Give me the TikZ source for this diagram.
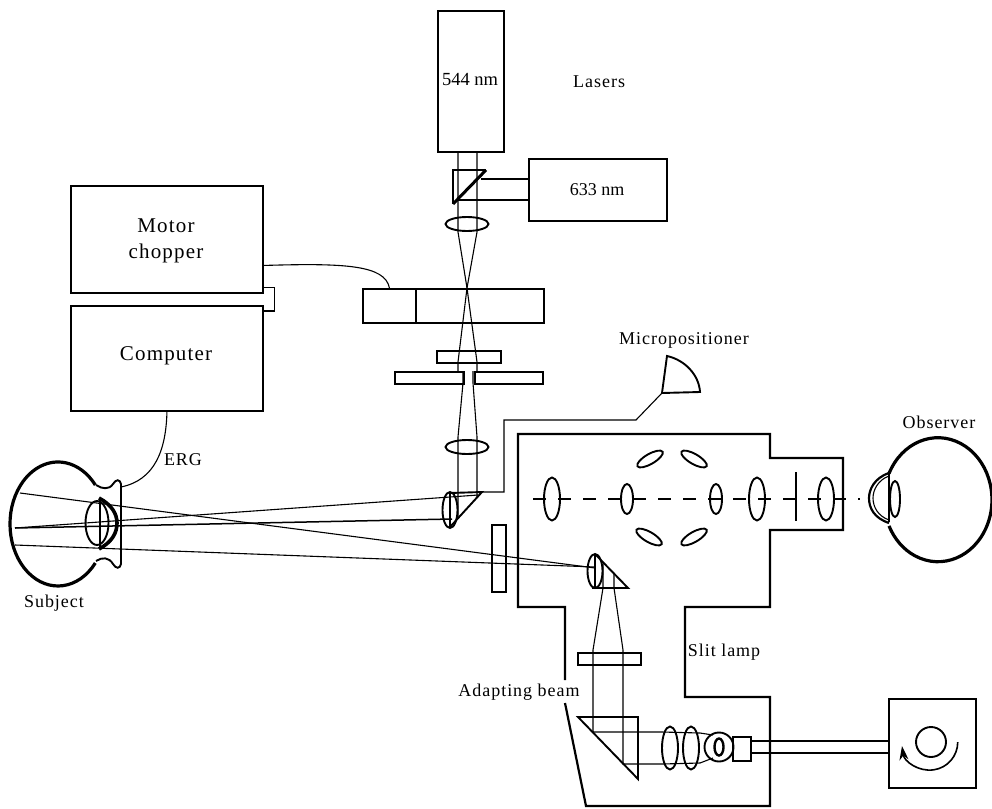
\documentclass[tikz,border=0pt]{standalone}
\usepackage{fontspec}
\setmainfont{Liberation Serif}
\newfontfamily\spacedfont[LetterSpace=5.5]{Liberation Serif}
\usepackage{tikz}
\usetikzlibrary{shapes.geometric, arrows.meta, positioning}

\begin{document}
\begin{tikzpicture}[
  x=1pt, y=-1pt,
  box/.style      = {rectangle, draw, line width=1.9pt, inner sep=0pt, anchor=north west},
  lens/.style     = {ellipse, draw, line width=1.9pt, inner sep=0pt, outer sep=0pt},
  biglens/.style  = {lens, minimum width=16pt, minimum height=43pt},
  smalllens/.style = {lens, minimum width=12pt, minimum height=30pt},
  flatlens/.style = {lens, minimum width=43pt, minimum height=14pt},
  tiltlens/.style = {lens, minimum width=29pt, minimum height=10pt},
  beam/.style     = {line width=1.1pt},
  prism/.style    = {line width=1.9pt, line join=miter},
  shell/.style    = {line width=2.2pt, line join=miter},
  eyeball/.style  = {line width=3.2pt},
  lbl/.style      = {font=\fontsize{18}{20}\selectfont\spacedfont, inner sep=0pt},
  biglbl/.style   = {font=\fontsize{21}{26}\selectfont\spacedfont, inner sep=0pt, align=center}
]
\useasboundingbox (0,0) rectangle (992,808);

% lasers and chopper boxes
\node[box, minimum width=66pt, minimum height=141pt] (green) at (437,10) {};
\node[box, minimum width=138pt, minimum height=62pt] (red) at (528,158) {};
\node[box, minimum width=192pt, minimum height=107pt] (motor) at (70,185) {};
\node[box, minimum width=192pt, minimum height=105pt] (computer) at (70,305) {};
\node[box, minimum width=53pt, minimum height=34pt] (choppera) at (362,288) {};
\node[box, minimum width=128pt, minimum height=34pt] (chopperb) at (415,288) {};
\node[box, minimum width=64pt, minimum height=12pt] (filtera) at (436,350) {};
\node[box, minimum width=69pt, minimum height=12pt] (plateleft) at (394,371) {};
\node[box, minimum width=68pt, minimum height=12pt] (plateright) at (474,371) {};
\node[box, minimum width=14pt, minimum height=67pt] (filterb) at (491,524) {};
\node[box, minimum width=63pt, minimum height=12pt] (filterc) at (577,652) {};
\node[box, minimum width=18pt, minimum height=24pt] (lamp) at (732,736) {};
\node[box, minimum width=87pt, minimum height=89pt] (wheel) at (888,698) {};

% lenses
\node[flatlens] (lensa) at (467,224) {};
\node[flatlens] (lensb) at (467,447) {};
\node[biglens] (obja) at (552,499) {};
\node[smalllens] (objb) at (627,499) {};
\node[smalllens] (objc) at (716,499) {};
\node[biglens] (objd) at (757,499) {};
\node[biglens] (obje) at (826,499) {};
\node[tiltlens, rotate=30] (tilta) at (650,459) {};
\node[tiltlens, rotate=-30] (tiltb) at (694,459) {};
\node[tiltlens, rotate=-30] (tiltc) at (649,537) {};
\node[tiltlens, rotate=30] (tiltd) at (694,537) {};
\node[lens, minimum width=15pt, minimum height=36pt] (halfa) at (450,510) {};
\node[lens, minimum width=15pt, minimum height=34pt] (halfb) at (595,571) {};
\node[biglens] (conda) at (670,748) {};
\node[biglens] (condb) at (691,748) {};
\node[lens, circle, minimum size=29pt] (bulb) at (719,747) {};
\node[lens, minimum width=9pt, minimum height=17pt, line width=2.4pt] (filament) at (719,747) {};
\node[lens, minimum width=23pt, minimum height=44pt] (eyelens) at (97,523) {};
\node[lens, minimum width=10pt, minimum height=36pt] (obslens) at (895,499) {};
\node[lens, circle, minimum size=30pt] (wheelhub) at (931,742) {};

% prisms
\draw[prism] (453,204) -- (453,170) -- (486,170);
\draw[line width=3pt] (486,170) -- (453,204);
\draw[prism] (450,493) -- (482,492) -- (450,527);
\draw[prism] (595,554) -- (628,588) -- (592,588);
\draw[prism] (578,717) -- (638,717) -- (638,779) -- cycle;
\draw[prism] (450,493) -- (450,527);
\draw[prism] (595,554) -- (595,588);

% laser beams
\draw[beam] (458,151) -- (458,232) -- (467,288) -- (477,362) -- (477,371);
\draw[beam] (477,151) -- (477,232) -- (467,288) -- (458,362) -- (458,371);
\draw[beam] (481,179) -- (red.west |- 0,179);
\draw[beam] (458,200) -- (red.west |- 0,200);
\draw[beam] (463,371) -- (463,383) -- (458,437) -- (458,518);
\draw[beam] (473,371) -- (473,383) -- (477,437) -- (477,497);

% rays into the eye
\draw[beam] (20,493) -- (595,568);
\draw[beam] (15,545) -- (595,567);
\draw[beam] (15,528) -- (478,495);
\draw[line width=1.5pt] (15,528) -- (452,519);

% adapting beam
\draw[beam] (603,564) -- (603,588) -- (593,650) -- (593,732) -- (662,732) -- (700,733) -- (713,735);
\draw[beam] (614,573) -- (614,588) -- (623,650) -- (623,764) -- (662,764) -- (700,763) -- (713,758);
\draw[beam] (lamp.east |- 0,741) -- (wheel.west |- 0,741);
\draw[beam] (lamp.east |- 0,753) -- (wheel.west |- 0,753);

% slit lamp outline
\draw[shell] (565,680) -- (565,607) -- (518,607) -- (518,434) -- (770,434) -- (770,458)
  -- (843,458) -- (843,530) -- (770,530) -- (770,607) -- (685,607) -- (685,697)
  -- (770,697) -- (770,806) -- (586,806) -- (565,703);
\draw[beam, dash pattern=on 13pt off 12pt] (533,499) -- (860,499);
\draw[line width=1.9pt] (796,472) -- (796,521);

% subject eye
\draw[eyeball] (95.3,563) arc[start angle=39, end angle=321, x radius=48, y radius=62];
\draw[line width=3.6pt] (99,498) .. controls (112,505) and (117,514) .. (117,523)
  .. controls (117,533) and (112,542) .. (99,549);
\draw[line width=1.5pt] (100,498) -- (100,549);
\draw[line width=1.9pt] (96,485) .. controls (102,489) and (109,490) .. (113,484)
  .. controls (116,479) and (120,479) .. (121,484) -- (121,564)
  .. controls (120,569) and (116,569) .. (113,564) .. controls (109,557) and (102,557) .. (96,561);

% observer eye
\draw[eyeball] (889,473.5) arc[start angle=205, end angle=515, x radius=54, y radius=62];
\draw[line width=1.9pt] (889,473) -- (889,522);
\draw[line width=2.2pt] (889,473) .. controls (874,478) and (869,490) .. (869,498)
  .. controls (869,508) and (874,518) .. (889,523);
\draw[line width=1.1pt] (889,476) .. controls (878,480) and (873,490) .. (873,498)
  .. controls (873,507) and (878,516) .. (889,520);

% wires
\node[inner sep=0pt] (micro) at (662,393) {};
\draw[prism] (micro.center) -- (667,356) .. controls (685,360) and (699,375) .. (700,392) -- cycle;
\draw[beam] (micro.center) -- (636,420) -- (504,420) -- (504,492) -- (482,492);
\draw[beam] ([yshift=-26pt]motor.east) .. controls (345,263) and (385,265) .. (choppera.north);
\draw[beam] ([yshift=6pt]motor.south east) -- ++(11,0) |- ([yshift=-6pt]computer.north east);
\draw[beam] (computer.south) .. controls (166,450) and (155,480) .. (121,487);

% wheel arrow
\draw[{Stealth[length=14pt, width=9pt]}-, line width=1.6pt] (902,746) arc[start angle=172, end angle=0, radius=28];

% labels
\node[inner sep=0pt, font=\fontsize{18.5}{20}\selectfont] (greenlbl) at (470,80) {544 nm};
\node[inner sep=0pt, font=\fontsize{18}{20}\selectfont] (redlbl) at (597,190) {633 nm};
\node[lbl, right=102pt of green.center] (lasers) {Lasers};
\node[biglbl] (motorlbl) at (166,241) {Motor\\chopper};
\node[biglbl] (computerlbl) at (166,356) {Computer};
\node[lbl] (microlbl) at (684,340) {Micropositioner};
\node[lbl] (observer) at (939,422) {Observer};
\node[lbl] (erg) at (183,460) {ERG};
\node[lbl] (subject) at (54,603) {Subject};
\node[lbl] (slitlamp) at (724,652) {Slit lamp};
\node[lbl] (adapting) at (519,692) {Adapting beam};
\end{tikzpicture}
\end{document}
